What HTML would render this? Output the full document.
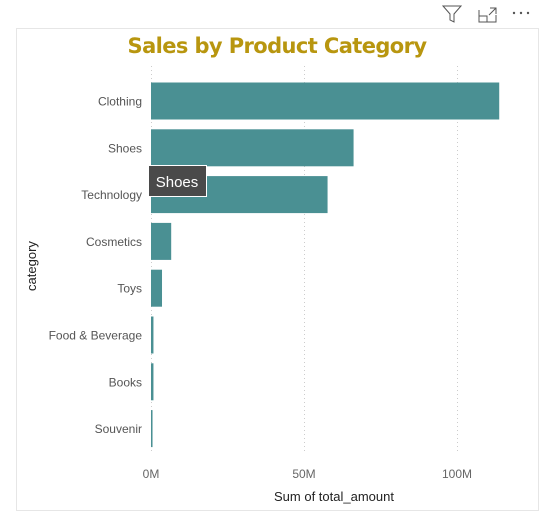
<!DOCTYPE html>
<html><head><meta charset="utf-8"><style>
body{margin:0;width:559px;height:524px;background:#fff;overflow:hidden;font-family:"Liberation Sans",sans-serif;position:relative}
</style></head><body>
<svg width="559" height="524" style="position:absolute;left:0;top:0">
<g>
<path d="M443,6 L461,6 L454,14 L454,22 L450,20 L450,14 Z" fill="none" stroke="#555" stroke-width="1"/>
<g fill="none" stroke="#555"><path d="M479,10 L479,22 L496,22 L496,15 M479,16 L487,16 L487,22"/><path d="M490,8 L496,8 L496,14 M496,8 L489,15"/></g>
<g fill="#555"><circle cx="514" cy="13" r="1.2"/><circle cx="521" cy="13" r="1.2"/><circle cx="528" cy="13" r="1.2"/></g>
</g>
<rect x="16.5" y="28.5" width="522" height="482" fill="#fff" stroke="#e6e6e6"/>
<text x="277" y="53" font-size="21" font-weight="bold" fill="#b8960f" text-anchor="middle" font-family="'DejaVu Sans',sans-serif" style="letter-spacing:-0.6px">Sales by Product Category</text>
<g id="grid"></g><g id="bars"></g><g id="ylabels"></g><g id="xlabels"></g>
<text x="334" y="501" font-size="13" fill="#222" text-anchor="middle">Sum of total_amount</text>
<text transform="translate(36,266) rotate(-90)" font-size="13" fill="#222" text-anchor="middle">category</text>
<g><rect x="148.5" y="165.5" width="58" height="31" fill="#4a4a4a" stroke="#fff"/><text x="177" y="187" font-size="15" fill="#fff" text-anchor="middle">Shoes</text></g>
</svg>
<script>
const categories=["Clothing","Shoes","Technology","Cosmetics","Toys","Food & Beverage","Books","Souvenir"];
const values=[113.8,66.2,57.7,6.6,3.6,0.8,0.8,0.5];
const ticks=[0,50,100];
const tickLabels=["0M","50M","100M"];
const NS="http://www.w3.org/2000/svg";
const x=v=>151+v*3.06;
const yc=i=>101+i*46.8;
function mk(t,a,p){const e=document.createElementNS(NS,t);for(const k in a)e.setAttribute(k,a[k]);document.getElementById(p).appendChild(e);return e;}
ticks.forEach((t,i)=>{
 const g=mk("line",{x1:x(t)+0.5,x2:x(t)+0.5,y1:66,y2:452,stroke:"#ccc","stroke-dasharray":"1,3"},"grid");
 
 
 const l=mk("text",{x:x(t),y:478,"font-size":12,fill:"#666","text-anchor":"middle"},"xlabels");
 l.textContent=tickLabels[i];
 
 
});
categories.forEach((c,i)=>{
 const r=mk("rect",{x:x(0),y:yc(i)-18.5,width:x(values[i])-x(0),height:37,fill:"#4a9093"},"bars");
 
 
 const l=mk("text",{x:142,y:yc(i)+4.5,"font-size":12,fill:"#555","text-anchor":"end"},"ylabels");
 l.textContent=c;
 
 
});
</script>
</body></html>
